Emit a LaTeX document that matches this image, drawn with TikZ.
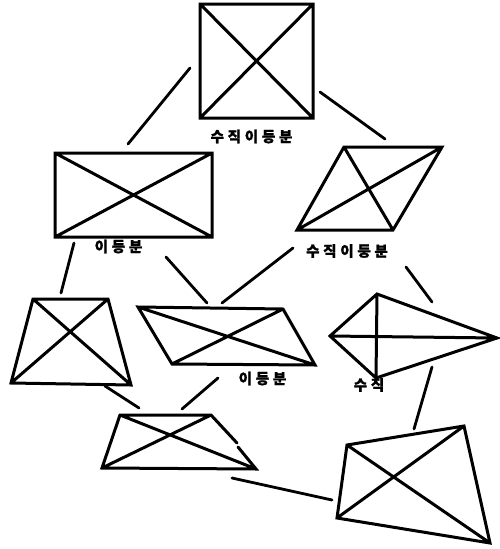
\documentclass[tikz,border=0pt]{standalone}
\usepackage{fontspec}
\newfontfamily\kofont{Noto Sans CJK KR}[LetterSpace=26, BoldFeatures={FakeBold=1.5}]
\begin{document}
\begin{tikzpicture}[x=1pt,y=-1pt,line cap=round,
    figura/.style={line width=3pt, line join=miter},
    enlace/.style={line width=2.8pt},
    etiqueta/.style={font=\kofont\bfseries\fontsize{14.5pt}{16pt}\selectfont, inner sep=0pt}]
    \useasboundingbox (0,0) rectangle (499,549);

    % Cuadrado (arriba)
    \draw[figura] (200,4) -- (313,4) -- (313,118) -- (200,118) -- cycle
        (200,4) -- (313,118) (313,4) -- (200,118);
    \node[etiqueta] (lcuadrado) at (251.5,136.5) {수직이등분};

    % Rectangulo
    \draw[figura] (55,153) -- (212,153) -- (212,237) -- (55,237) -- cycle
        (55,153) -- (212,237) (212,153) -- (55,237);
    \node[etiqueta] (lrect) at (118.5,246.5) {이등분};

    % Rombo
    \draw[figura] (344,147) -- (442,147) -- (393,230) -- (297,230) -- cycle
        (344,147) -- (393,230) (442,147) -- (297,230);
    \node[etiqueta] (lrombo) at (347,251) {수직이등분};

    % Trapecio isosceles (izquierda)
    \draw[figura] (33,299) -- (108,299) -- (131,385) -- (11,383) -- cycle
        (33,299) -- (131,385) (108,299) -- (11,383);

    % Paralelogramo
    \draw[figura] (138,307) -- (283,309) -- (315,365) -- (172,364) -- cycle
        (138,307) -- (315,365) (283,309) -- (172,364);
    \node[etiqueta] (lparal) at (262.5,378.5) {이등분};

    % Cometa
    \draw[figura] (330,336) -- (377,294) -- (497,338) -- (376,378) -- cycle
        (330,336) -- (497,338) (377,294) -- (376,378);
    \node[etiqueta] (lcometa) at (369,385) {수직};

    % Trapecio (abajo)
    \draw[figura] (237,443) -- (211,415) -- (120,415) -- (102,468) -- (256,469) -- (238,447)
        (120,415) -- (256,469) (211,415) -- (102,468);

    % Cuadrilatero (abajo a la derecha)
    \draw[figura] (347,445) -- (464,426) -- (490,543) -- (337,518) -- cycle
        (347,445) -- (490,543) (464,426) -- (337,518);

    % Extremos de los enlaces
    \coordinate (e1a) at (190,68);  \coordinate (e1b) at (128,144);
    \coordinate (e2a) at (320,92);  \coordinate (e2b) at (385,139);
    \coordinate (e3a) at (74,243);  \coordinate (e3b) at (61,293);
    \coordinate (e4a) at (166,257); \coordinate (e4b) at (207,303);
    \coordinate (e5a) at (293,248); \coordinate (e5b) at (222,303);
    \coordinate (e6a) at (406,267); \coordinate (e6b) at (432,302);
    \coordinate (e7a) at (105,386); \coordinate (e7b) at (139,408);
    \coordinate (e8a) at (218,378); \coordinate (e8b) at (182,409);
    \coordinate (e9a) at (432,367); \coordinate (e9b) at (414,429);
    \coordinate (e10a) at (232,478); \coordinate (e10b) at (332,500);

    % Enlaces
    \foreach \i in {1,...,10}
        \draw[enlace] (e\i a) -- (e\i b);
\end{tikzpicture}
\end{document}
